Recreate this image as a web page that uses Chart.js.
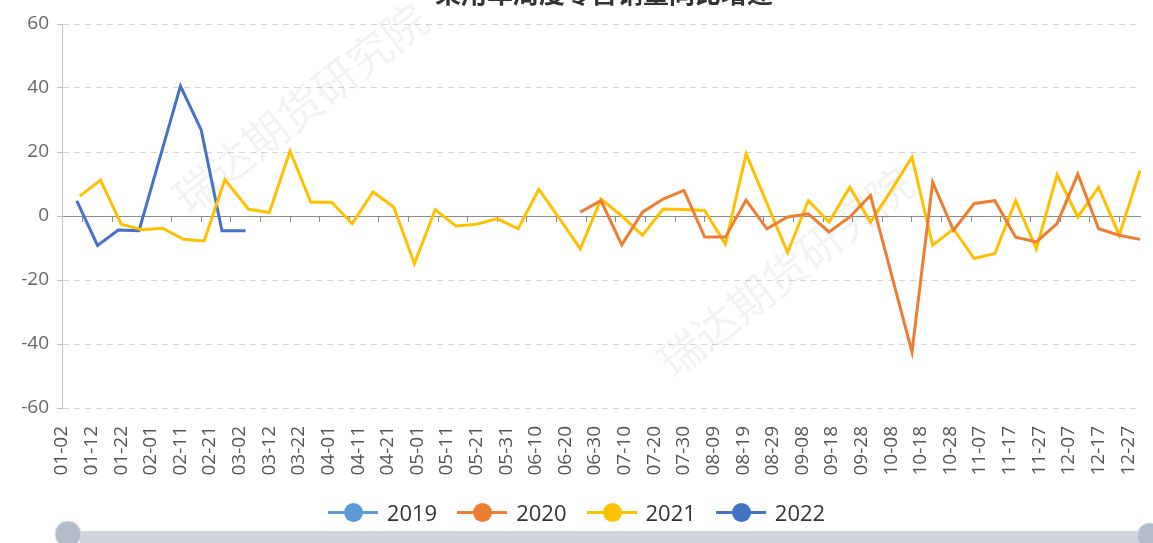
<!DOCTYPE html>
<html lang="zh-CN">
<head>
    <meta charset="utf-8"/>
    <title>周度同比</title>
    <script src="https://cdn.jsdelivr.net/npm/chart.js"></script>
    <style>
        html, body { margin: 0; padding: 0; background: #fff; overflow: hidden; }
        #wrap { position: relative; width: 1153px; height: 543px; }
        #title {
            position: absolute; left: 435px; top: -21px;
            font: bold 26px "Noto Sans CJK SC", sans-serif; line-height: 1; color: #333;
            white-space: nowrap;
        }
        #legend {
            position: absolute; left: 0; right: 0; top: 500px; height: 24px;
            display: flex; justify-content: center; align-items: center;
            font: 22px "Open Sans", sans-serif; color: #333;
        }
        .item { display: flex; align-items: center; margin: 0 10px; }
        .sym { position: relative; width: 50px; height: 22px; }
        .sym .ln { position: absolute; left: 0; right: 0; top: 10px; height: 3px; }
        .sym .dot { position: absolute; left: 16px; top: 2px; width: 19px; height: 19px; border-radius: 50%; }
        .item span.txt { margin-left: 9px; }
    </style>
</head>
<body>
<div id="wrap">
    <canvas id="chart"></canvas>
    <div id="title">乘用车周度零售销量同比增速</div>
    <div id="legend"></div>
</div>
<script>
    // category axis of the source: one slot per day, leap-year calendar, starting 01-02
    const monthDays = [31, 29, 31, 30, 31, 30, 31, 31, 30, 31, 30, 31];
    const labelStep = 10;

    const seriesNames = ['2019', '2020', '2021', '2022'];
    const seriesColors = ['#5B9BD5', '#ED7D31', '#FFC000', '#4472C4'];

    const dates2019 = [];
    const values2019 = [];

    const dates2020 = ['06-25', '07-02', '07-09', '07-16', '07-23', '07-30', '08-06', '08-13', '08-20', '08-27',
        '09-03', '09-10', '09-17', '09-24', '10-01', '10-08', '10-15', '10-22', '10-29', '11-05',
        '11-12', '11-19', '11-26', '12-03', '12-10', '12-17', '12-24', '12-31'];
    const values2020 = [1.2, 4.8, -9, 1.2, 5.3, 8, -6.6, -6.6, 5, -4,
        -0.3, 0.7, -5, -0.3, 6.4, -18, -42.5, 10.6, -4.5, 3.9,
        4.8, -6.6, -8.1, -2.4, 13.1, -4, -6, -7.3];

    const dates2021 = ['01-08', '01-15', '01-22', '01-29', '02-05', '02-12', '02-19', '02-26', '03-05', '03-12',
        '03-19', '03-26', '04-02', '04-09', '04-16', '04-23', '04-30', '05-07', '05-14', '05-21',
        '05-28', '06-04', '06-11', '06-18', '06-25', '07-02', '07-09', '07-16', '07-23', '07-30',
        '08-06', '08-13', '08-20', '08-27', '09-03', '09-10', '09-17', '09-24', '10-01', '10-08',
        '10-15', '10-22', '10-29', '11-05', '11-12', '11-19', '11-26', '12-03', '12-10', '12-17',
        '12-24', '12-31'];
    const values2021 = [6.2, 11.2, -2.6, -4.3, -3.8, -7.3, -7.8, 11.4, 2.1, 1.1,
        20.3, 4.3, 4.3, -2.4, 7.5, 2.8, -14.9, 2, -3.1, -2.6,
        -0.8, -4, 8.3, -0.8, -10.3, 5.3, 0, -6, 2.2, 2,
        1.7, -8.8, 19.4, 4, -11.4, 4.8, -1.9, 9, -1.9, 8,
        18.4, -9.2, -4, -13.3, -11.7, 4.8, -10.3, 12.9, -0.3, 9,
        -6, 14.2];

    const dates2022 = ['01-07', '01-14', '01-21', '01-28', '02-04', '02-11', '02-18', '02-25', '03-04'];
    const values2022 = [4.7, -9.2, -4.4, -4.6, 18, 40.6, 26.9, -4.6, -4.6];

    const yTicks = [-60, -40, -20, 0, 20, 40, 60];

    const pad2 = n => String(n).padStart(2, '0');
    const dayLabels = [];
    monthDays.forEach((days, m) => {
        for (let d = 1; d <= days; d++) {
            if (m === 0 && d === 1) continue;
            dayLabels.push(pad2(m + 1) + '-' + pad2(d));
        }
    });

    const allDates = [dates2019, dates2020, dates2021, dates2022];
    const allValues = [values2019, values2020, values2021, values2022];

    const datasets = seriesNames.map((name, i) => ({
        label: name,
        data: allDates[i].map((d, j) => ({x: d, y: allValues[i][j]})),
        borderColor: seriesColors[i],
        backgroundColor: seriesColors[i],
        borderWidth: 3,
        pointRadius: 0,
        tension: 0,
        xAxisID: 'x'
    }));

    const FONT = '"Open Sans", sans-serif';
    const noPad = s => { s.paddingLeft = 0; s.paddingRight = 0; };

    const decor = {
        id: 'decor',
        beforeDatasetsDraw(chart) {
            const ctx = chart.ctx;
            ctx.save();
            ctx.fillStyle = 'rgba(0,0,0,0.05)';
            ctx.font = '44px "Noto Sans CJK SC", sans-serif';
            ctx.textAlign = 'center';
            ctx.textBaseline = 'middle';
            [[300, 108], [785, 272]].forEach(p => {
                ctx.save();
                ctx.translate(p[0], p[1]);
                ctx.rotate(-38 * Math.PI / 180);
                ctx.fillText('瑞达期货研究院', 0, 0);
                ctx.restore();
            });
            ctx.restore();
        },
        afterDraw(chart) {
            // data-zoom slider strip at the bottom (cut off in the source)
            const ctx = chart.ctx;
            ctx.save();
            ctx.fillStyle = '#cfd3da';
            ctx.fillRect(80, 531, 1064, 20);
            [[68, 534], [1150, 536]].forEach(p => {
                ctx.beginPath();
                ctx.arc(p[0], p[1], 13, 0, Math.PI * 2);
                ctx.fillStyle = '#b3bccb';
                ctx.fill();
                ctx.lineWidth = 1;
                ctx.strokeStyle = '#d9dee6';
                ctx.stroke();
            });
            ctx.restore();
        }
    };

    new Chart(document.getElementById('chart'), {
        type: 'line',
        data: {labels: dayLabels, datasets: datasets},
        options: {
            responsive: true,
            maintainAspectRatio: false,
            animation: false,
            layout: {padding: {left: 0, right: 13, top: 24, bottom: 60}},
            plugins: {
                legend: {display: false},
                tooltip: {enabled: false},
                title: {display: false}
            },
            scales: {
                x: {
                    type: 'category',
                    position: 'bottom',
                    grid: {display: false},
                    border: {display: false},
                    ticks: {
                        autoSkip: false,
                        minRotation: 90,
                        maxRotation: 90,
                        padding: 10,
                        color: '#555',
                        font: {family: FONT, size: 19},
                        callback: (v, i) => (i % labelStep === 0 ? dayLabels[i] : '')
                    },
                    afterFit: s => { s.height = 75; noPad(s); }
                },
                x2: {
                    type: 'category',
                    position: {y: 0},
                    grid: {
                        drawOnChartArea: false,
                        drawTicks: true,
                        tickLength: 5,
                        tickColor: c => (c.index % labelStep === 7 ? '#888' : 'rgba(0,0,0,0)')
                    },
                    border: {display: true, color: '#8a8a8a', width: 1},
                    ticks: {display: false, autoSkip: false},
                    afterFit: noPad
                },
                y: {
                    min: -60,
                    max: 60,
                    afterBuildTicks: s => { s.ticks = yTicks.map(v => ({value: v})); },
                    grid: {
                        color: '#d6d6d6',
                        tickColor: '#bbb',
                        tickLength: 5
                    },
                    border: {display: true, color: '#c4c4c4', dash: [6, 5]},
                    ticks: {
                        padding: 8,
                        color: '#666',
                        font: {family: FONT, size: 19}
                    },
                    afterFit: s => { s.width = 62; }
                }
            }
        },
        plugins: [decor]
    });

    // legend (line + circle symbols like the source)
    const legendEl = document.getElementById('legend');
    seriesNames.forEach((name, i) => {
        const item = document.createElement('div');
        item.className = 'item';
        item.innerHTML = '<div class="sym"><div class="ln" style="background:' + seriesColors[i] + '"></div>' +
            '<div class="dot" style="background:' + seriesColors[i] + '"></div></div><span class="txt">' + name + '</span>';
        legendEl.appendChild(item);
    });
</script>
</body>
</html>
